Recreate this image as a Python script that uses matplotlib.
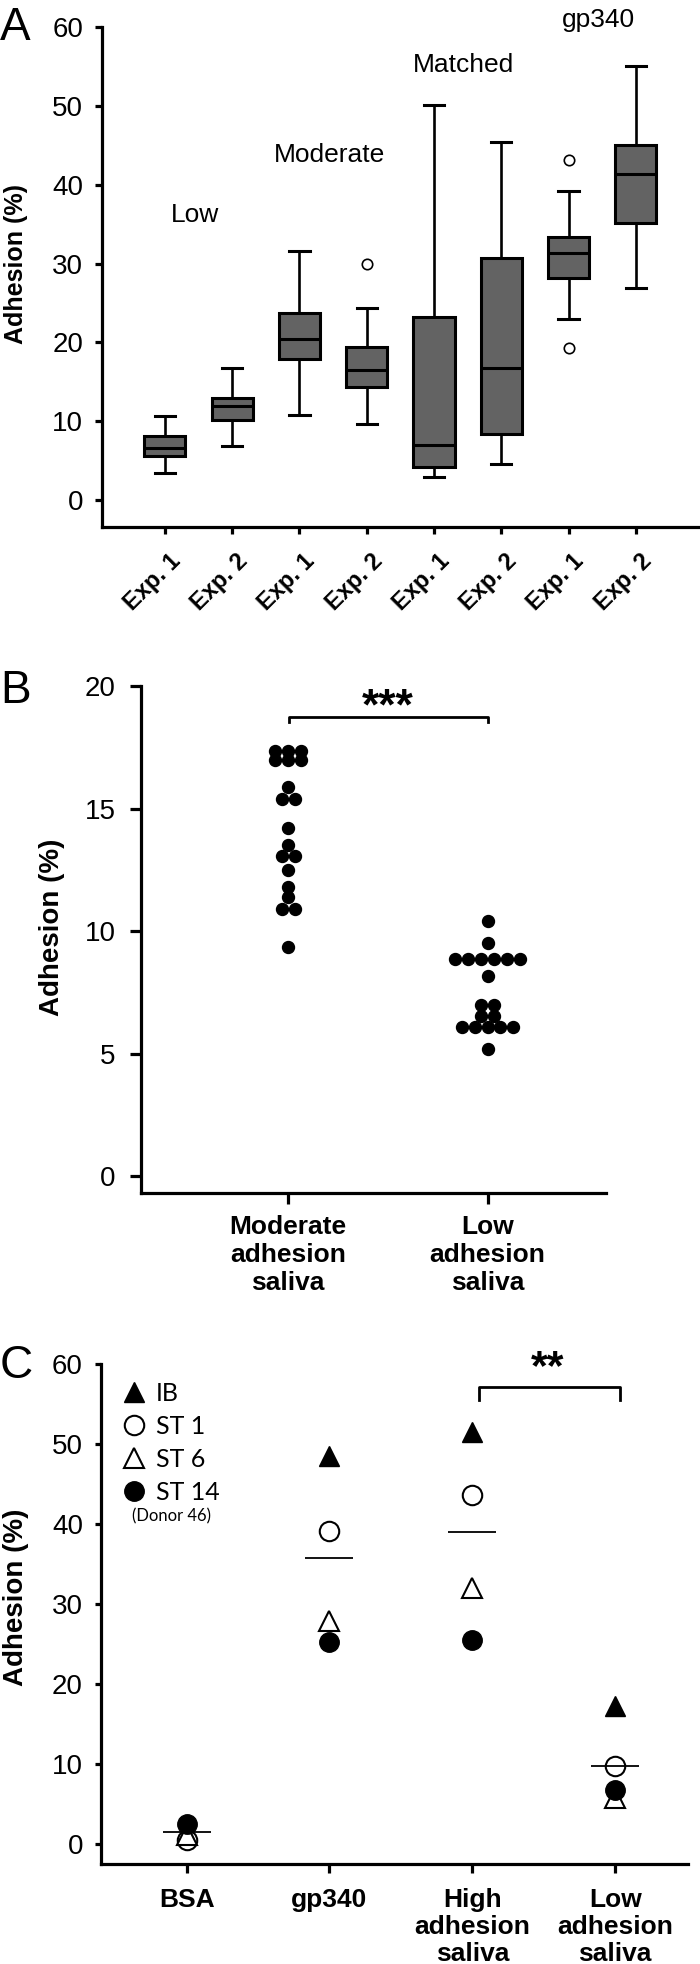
import matplotlib.pyplot as plt
import matplotlib.transforms as mtransforms
from matplotlib.lines import Line2D
import numpy as np

plt.rcParams['font.family'] = ['Liberation Sans', 'DejaVu Sans']

# panel A: box plots, two experiments per saliva group
exp_labels = ["Exp. 1", "Exp. 2"] * 4
group_labels = ["Low", "Moderate", "Matched", "gp340"]
group_label_y = [35.25, 42.9, 54.3, 60.0]
whis_lo = [3.4, 6.85, 10.8, 9.6, 2.9, 4.6, 23.0, 26.9]
q1 = [5.65, 10.15, 17.85, 14.3, 4.15, 8.45, 28.2, 35.1]
med = [6.6, 12.0, 20.5, 16.5, 7.0, 16.8, 31.3, 41.3]
q3 = [8.1, 13.0, 23.7, 19.4, 23.2, 30.7, 33.4, 45.1]
whis_hi = [10.7, 16.8, 31.6, 24.4, 50.1, 45.4, 39.2, 55.1]
fliers = [[], [], [], [30.0], [], [], [43.1, 19.3], []]

# panel B: individual saliva samples
b_labels = ["Moderate\nadhesion\nsaliva", "Low\nadhesion\nsaliva"]
moderate = [17.35] * 3 + [16.98] * 3 + [15.89] + [15.37] * 2 + [14.19, 13.51] \
    + [13.06] * 2 + [12.49, 11.81, 11.37] + [10.90] * 2 + [9.33]
low = [10.42, 9.50] + [8.86] * 6 + [8.16] + [6.98] * 2 + [6.54] * 2 + [6.09] * 5 + [5.17]

# panel C: strains on each coating
c_labels = ["BSA", "gp340", "High\nadhesion\nsaliva", "Low\nadhesion\nsaliva"]
ib = [1.6, 48.5, 51.6, 17.3]
st1 = [0.55, 39.2, 43.7, 9.8]
st6 = [1.2, 27.9, 32.0, 5.75]
st14 = [2.6, 25.3, 25.6, 6.8]
c_means = [1.55, 35.75, 39.1, 9.8]

W, H = 700, 1964
LW = 2.3


def add_axes_px(fig, left, top, right, bottom):
    return fig.add_axes([left / W, 1 - bottom / H, (right - left) / W, (bottom - top) / H])


def style_axes(ax, ylen, xlen, ypad, xpad):
    for side in ["top", "right"]:
        ax.spines[side].set_visible(False)
    for side in ["left", "bottom"]:
        ax.spines[side].set_linewidth(LW)
    ax.tick_params(axis="y", length=ylen, width=LW, labelsize=20, pad=ypad)
    ax.tick_params(axis="x", length=xlen, width=LW, pad=xpad)


def swarm_x(center, values, spacing):
    xs = []
    for v in values:
        n = values.count(v)
        k = sum(1 for x_ in xs if x_[0] == v)
        xs.append((v, center + (k - (n - 1) / 2) * spacing))
    return [x for _, x in xs]


fig = plt.figure(figsize=(7.0, 19.64), dpi=100)

# ---- A
ax = add_axes_px(fig, 102, 27, 699, 527)
pos = np.arange(1, 9)
stats = [dict(whislo=a, q1=b, med=c, q3=d, whishi=e, fliers=f)
         for a, b, c, d, e, f in zip(whis_lo, q1, med, q3, whis_hi, fliers)]
ax.bxp(stats, positions=pos, widths=0.61, patch_artist=True, capwidths=0.3,
       boxprops=dict(facecolor="#636363", edgecolor="black", linewidth=2.2),
       medianprops=dict(color="black", linewidth=2.2),
       whiskerprops=dict(color="black", linewidth=1.9),
       capprops=dict(color="black", linewidth=2.2),
       flierprops=dict(marker="o", markerfacecolor="white", markeredgecolor="black",
                       markersize=7.5, markeredgewidth=1.2))
ax.set_xlim(0.064, 8.94)
ax.set_ylim(-3.4, 60)
ax.set_yticks(range(0, 61, 10))
style_axes(ax, 5, 5, 8.5, 17)
ax.set_xticks(pos)
ax.set_xticklabels(exp_labels, rotation=45, ha="right", va="center",
                   rotation_mode="anchor", fontweight="bold", fontsize=17)
shift = mtransforms.ScaledTranslation(12 / 100, 0, fig.dpi_scale_trans)
for lab in ax.get_xticklabels():
    lab.set_transform(lab.get_transform() + shift)
for i, (name, y) in enumerate(zip(group_labels, group_label_y)):
    ax.text(pos[2 * i] + 0.5 - 0.06, y, name, ha="center", va="baseline", fontsize=19)
ax.set_ylabel("Adhesion (%)", fontsize=18, fontweight="bold")
ax.yaxis.set_label_coords(-0.144, 0.526)
ax.yaxis.label.set_va("center")
fig.text(0, 1 - 40 / H, "A", fontsize=33, va="baseline", ha="left")

# ---- B
ax = add_axes_px(fig, 140.6, 686, 606, 1193)
spacing = 0.065
ax.plot(swarm_x(1, moderate, spacing), moderate, "o", color="black", ms=8.6, ls="none")
ax.plot(swarm_x(2, low, spacing), low, "o", color="black", ms=8.6, ls="none")
ax.set_xlim(0.261, 2.594)
ax.set_ylim(-0.69, 20)
ax.set_yticks([0, 5, 10, 15, 20])
style_axes(ax, 8, 8, 10, 8)
ax.set_xticks([1, 2])
ax.set_xticklabels(b_labels, fontweight="bold", fontsize=19, linespacing=1.2)
ax.plot([1.005, 1.005, 2.0, 2.0], [18.55, 18.75, 18.75, 18.55], color="black", lw=2)
ax.text(1.5, 18.65, "***", ha="center", va="baseline", fontsize=32, fontweight="bold")
ax.set_ylabel("Adhesion (%)", fontsize=20, fontweight="bold")
ax.yaxis.set_label_coords(-0.190, 0.524)
ax.yaxis.label.set_va("center")
fig.text(0, 1 - 703 / H, "B", fontsize=33, va="baseline", ha="left")

# ---- C
ax = add_axes_px(fig, 101, 1364.3, 687.5, 1864)
xc = np.arange(1, 5)
ax.plot(xc, ib, "^", color="black", ms=14, ls="none")
ax.plot(xc, st1, "o", mfc="white", mec="black", mew=1.5, ms=14, ls="none")
ax.plot(xc, st6, "^", mfc="white", mec="black", mew=1.5, ms=14, ls="none")
ax.plot(xc, st14, "o", color="black", ms=14, ls="none")
ax.hlines(c_means, xc - 0.168, xc + 0.168, color="black", lw=1.3, zorder=5)
ax.set_xlim(0.401, 4.506)
ax.set_ylim(-2.46, 60)
ax.set_yticks(range(0, 61, 10))
style_axes(ax, 4.5, 6.5, 8.5, 11)
ax.set_xticks(xc)
ax.set_xticklabels(c_labels, fontweight="bold", fontsize=19, linespacing=1.15)
ax.plot([3.048, 3.048, 4.033, 4.033], [55.6, 57.2, 57.2, 55.6], color="black", lw=2)
ax.text(3.53, 58.2, "**", ha="center", va="baseline", fontsize=31, fontweight="bold")
handles = [
    Line2D([], [], marker="^", color="black", ls="none", ms=14),
    Line2D([], [], marker="o", mfc="white", mec="black", mew=1.5, ls="none", ms=14),
    Line2D([], [], marker="^", mfc="white", mec="black", mew=1.5, ls="none", ms=14),
    Line2D([], [], marker="o", color="black", ls="none", ms=14),
]
ax.legend(handles, ["IB", "ST 1", "ST 6", "ST 14"], loc="center left",
          bbox_to_anchor=(0.0344, 0.843), frameon=False, borderpad=0, borderaxespad=0,
          handlelength=1.0, handletextpad=0.4, labelspacing=0.4,
          prop=dict(family="Lato", size=18))
ax.text(0.053, 0.695, "(Donor 46)", transform=ax.transAxes, family="Lato", fontsize=12,
        ha="left", va="center")
ax.set_ylabel("Adhesion (%)", fontsize=20, fontweight="bold")
ax.yaxis.set_label_coords(-0.145, 0.534)
ax.yaxis.label.set_va("center")
fig.text(0, 1 - 1378 / H, "C", fontsize=33, va="baseline", ha="left")

fig.savefig("out.png", dpi=100)
